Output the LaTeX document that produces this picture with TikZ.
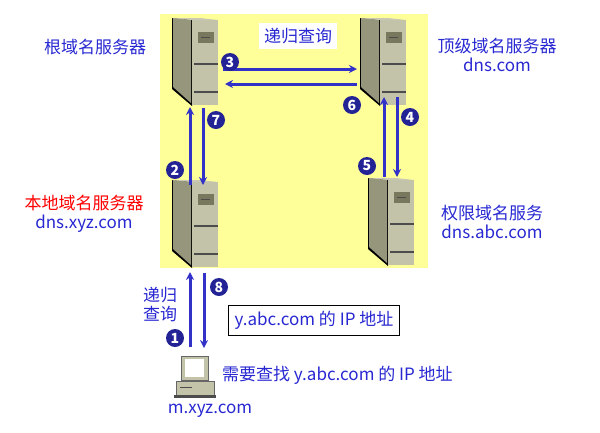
\documentclass[tikz,border=0pt]{standalone}
\usepackage{fontspec}
\setmainfont{Noto Sans CJK SC}
\usetikzlibrary{arrows.meta}
\begin{document}
\begin{tikzpicture}[x=1pt,y=-1pt,
  lbl/.style={text=txtblue,font=\fontsize{17}{19}\selectfont,inner sep=0pt},
  arr/.style={draw=arrblue,line width=3pt,-{Stealth[length=8pt,width=8pt]}},
  num/.style={circle,fill=numblue,text=white,inner sep=0pt,minimum size=18pt,font=\bfseries\fontsize{14}{14}\selectfont},
  server/.pic={
    \fill[black] (0,0) -- (20,2) -- (20,88) -- (0,71) -- cycle;
    \fill[sidec] (1,0) -- (19,2) -- (19,85) -- (1,69) -- cycle;
    \fill[topc] (0,0) -- (28,0) -- (46,2) -- (20,2) -- cycle;
    \fill[frontc] (20,2) rectangle (46,87);
    \fill[slot] (26,14) rectangle (42,25);
    \draw[black!70,line width=1.2pt] (29,19.5) -- (38,19.5);
    \draw[black!70,line width=1.2pt] (22,46) -- (46,46) (22,74) -- (46,74);
  }]
\definecolor{txtblue}{RGB}{40,40,210}
\definecolor{arrblue}{RGB}{50,50,200}
\definecolor{numblue}{RGB}{35,35,150}
\definecolor{sidec}{RGB}{150,150,125}
\definecolor{topc}{RGB}{200,200,180}
\definecolor{frontc}{RGB}{195,195,170}
\definecolor{slot}{RGB}{120,120,95}
\definecolor{yel}{RGB}{255,255,153}
\useasboundingbox (0,0) rectangle (600,432);
\fill[yel] (160,14) rectangle (428,268);
\pic at (172,18) {server};
\pic at (360,18) {server};
\pic at (172,180) {server};
\pic at (368,178) {server};
% client computer
\fill[frontc] (181,356) rectangle (208,380);
\fill[white] (185,359) rectangle (204,377);
\draw[black!60] (181,356) rectangle (208,380);
\fill[frontc] (176,381) rectangle (214,395);
\draw[black!60] (176,381) rectangle (214,395);
\draw[black!70,line width=1pt] (180,387) -- (192,387);
\fill[black!70] (174,395) rectangle (216,398);
% labels
\node[lbl] (root) at (95,47) {根域名服务器};
\node[lbl,align=center] (top) at (497,55) {顶级域名服务器\\dns.com};
\node[lbl,align=center] (loc) at (84,214) {\textcolor{red}{本地域名服务器}\\dns.xyz.com};
\node[lbl,align=center] (auth) at (492,222) {权限域名服务\\dns.abc.com};
\node[lbl,fill=white,inner sep=5pt] (rq) at (298,36) {递归查询};
\node[lbl,align=center] (rq2) at (160,304) {递归\\查询};
\node[lbl,draw=black,text=txtblue,inner xsep=6pt,inner ysep=6pt] (ans) at (314,320) {y.abc.com 的 IP 地址};
\node[lbl,anchor=west] (need) at (222,375) {需要查找 y.abc.com 的 IP 地址};
\node[lbl] (m) at (210,411) {m.xyz.com};
% arrows
\coordinate (a3s) at (223,69); \coordinate (a3e) at (357,69);
\coordinate (a6s) at (357,84); \coordinate (a6e) at (225,84);
\coordinate (a7s) at (203,108); \coordinate (a7e) at (203,185);
\coordinate (a2s) at (190,185); \coordinate (a2e) at (190,107);
\coordinate (a5s) at (384,177); \coordinate (a5e) at (384,97);
\coordinate (a4s) at (397,97); \coordinate (a4e) at (397,177);
\coordinate (a1s) at (190,347); \coordinate (a1e) at (190,272);
\coordinate (a8s) at (204,273); \coordinate (a8e) at (204,348);
\foreach \s/\e in {a3s/a3e,a6s/a6e,a7s/a7e,a2s/a2e,a5s/a5e,a4s/a4e,a1s/a1e,a8s/a8e}
  \draw[arr] (\s) -- (\e);
\node[num] (n3) at (230,62) {3};
\node[num] (n6) at (352,105) {6};
\node[num] (n7) at (216,120) {7};
\node[num] (n2) at (175,170) {2};
\node[num] (n5) at (367,166) {5};
\node[num] (n4) at (410,117) {4};
\node[num] (n1) at (175,338) {1};
\node[num] (n8) at (219,287) {8};
\end{tikzpicture}
\end{document}
